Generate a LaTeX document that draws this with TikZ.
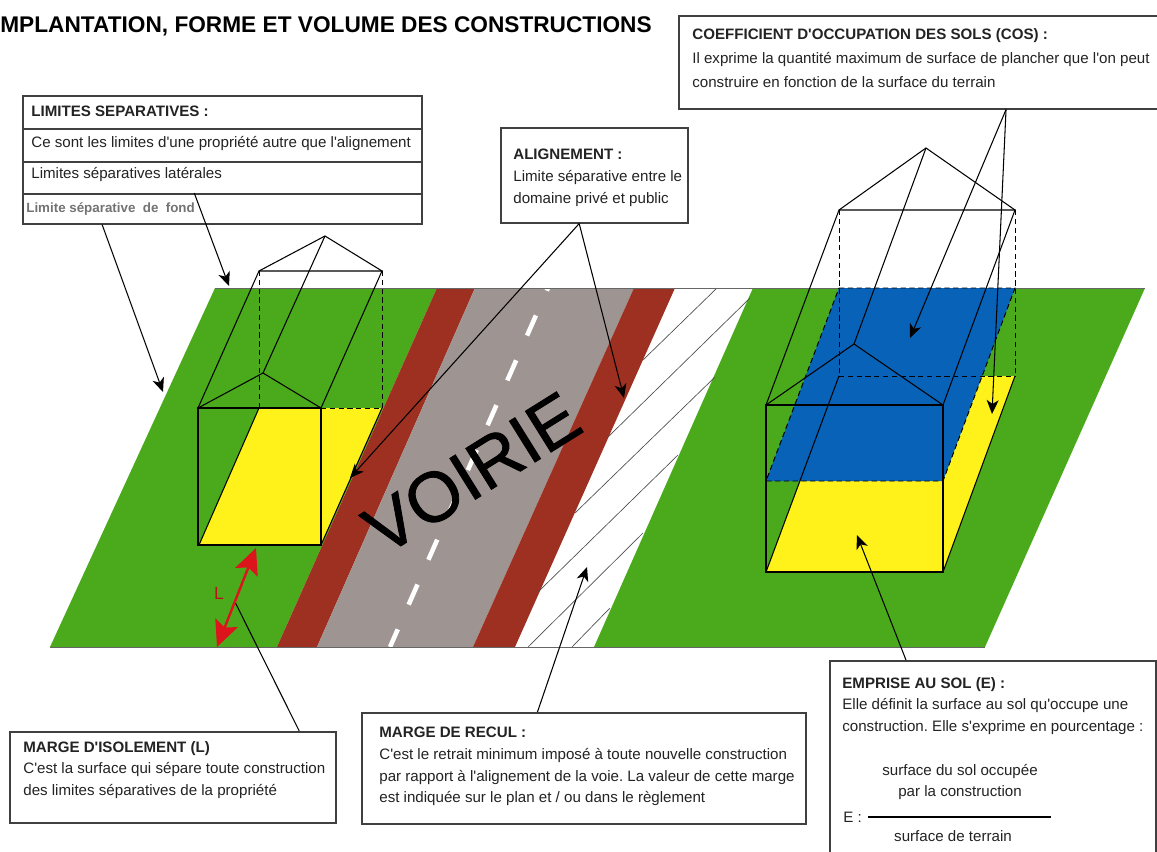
\documentclass[tikz,border=0pt]{standalone}
\usepackage{fontspec}
\setmainfont{Liberation Sans}[Ligatures=TeXOff]
\newfontfamily\grasfont[FakeBold=1.2]{Liberation Sans}
\usetikzlibrary{arrows.meta,calc}
\definecolor{gazon}{RGB}{75,170,28}
\definecolor{trottoir}{RGB}{158,48,33}
\definecolor{chaussee}{RGB}{158,148,146}
\definecolor{emprise}{RGB}{255,242,26}
\definecolor{cosbleu}{RGB}{8,98,184}
\definecolor{rouge}{RGB}{220,20,28}
\definecolor{encre}{RGB}{35,35,35}
\newcommand{\txt}{\fontsize{8.6}{12.3}\selectfont}
\newcommand{\txtcos}{\fontsize{8.6}{13.8}\selectfont}
\tikzset{
  boite/.style={draw=black!75,line width=.9pt,fill=white,inner sep=0pt,anchor=north west},
  texte/.style={anchor=north west,inner sep=0pt,align=left,text=encre,font=\txt},
  centre/.style={anchor=center,inner sep=0pt,align=center,text=encre,font=\txt},
  fleche/.style={draw=black,line width=.6pt,-{Stealth[length=.28cm,width=.24cm,inset=.08cm]}},
  trait/.style={draw=black,line width=.6pt},
  tirets/.style={draw=black,line width=.55pt,dash pattern=on 3pt off 2pt},
  hachure/.style={draw=black!70,line width=.38pt},
}
\begin{document}
\frenchspacing
\begin{tikzpicture}[x=0.02cm,y=-0.02cm]
\useasboundingbox (0,0) rectangle (1157,852);
\clip (0,0) rectangle (1157,852);
% terrain
\fill[gazon] (215,288) -- (437,288) -- (277,647) -- (50,647) -- cycle;
\fill[gazon] (753,288) -- (1145,288) -- (985,647) -- (594,647) -- cycle;
\fill[trottoir] (437,288) -- (475,288) -- (317,647) -- (277,647) -- cycle;
\fill[chaussee] (475,288) -- (634,288) -- (473,647) -- (317,647) -- cycle;
\fill[trottoir] (634,288) -- (675,288) -- (515,647) -- (473,647) -- cycle;
% hachures
\draw[hachure] (643,360) -- (717,288);
\draw[hachure] (608,437) -- (750,298);
\draw[hachure] (575,513) -- (715,377);
\draw[hachure] (538,592) -- (678,455);
\draw[hachure] (528,647) -- (643,533);
\draw[hachure] (572,647) -- (610,608);
% axe de la voie
\draw[white,line width=2.6pt,dash pattern=on .44cm off .54cm,dash phase=.38cm] (548,288) -- (390,647);
\draw[black!60,line width=.5pt] (215,288) -- (1145,288);
\draw[black!60,line width=.5pt] (50,647) -- (985,647);
\node[rotate=32,inner sep=0pt,font=\grasfont\fontsize{40}{40}\selectfont] (voirie) at (472,473) {VOIRIE};
% maison gauche
\fill[emprise] (259,408) -- (382,408) -- (321,545) -- (199,545) -- cycle;
\draw[trait] (259,408) -- (199,545);
\draw[trait] (382,408) -- (321,545);
\draw[trait] (198,408) rectangle (321,545);
\draw[tirets] (259,271) -- (259,408);
\draw[tirets] (382,271) -- (382,408);
\draw[tirets] (321,408) -- (382,408);
\draw[trait] (198,408) -- (259,271) -- (382,271) -- (321,408);
\draw[trait] (198,408) -- (263,373) -- (321,408);
\draw[trait] (259,271) -- (325,236) -- (382,271);
\draw[trait] (263,373) -- (325,236);
% maison droite
\fill[emprise] (839,376) -- (1015,376) -- (943,572) -- (766,572) -- cycle;
\fill[cosbleu] (839,288) -- (1015,288) -- (943,481) -- (766,481) -- cycle;
\draw[tirets] (839,288) -- (1015,288) -- (943,481) -- (766,481) -- cycle;
\draw[trait] (839,376) -- (766,572);
\draw[trait] (1015,376) -- (943,572);
\draw[trait] (766,405) rectangle (943,572);
\draw[tirets] (839,210) -- (839,376);
\draw[tirets] (1015,210) -- (1015,376);
\draw[tirets] (839,376) -- (1015,376);
\draw[trait] (766,405) -- (839,210) -- (1015,210) -- (943,405);
\draw[trait] (766,405) -- (854,344) -- (943,405);
\draw[trait] (839,210) -- (926,148) -- (1015,210);
\draw[trait] (854,344) -- (926,148);
% titre
\node[anchor=west,inner sep=0pt,font=\fontsize{12.9}{14}\selectfont\bfseries,text=black] (titre) at (0,26) {MPLANTATION, FORME ET VOLUME DES CONSTRUCTIONS};
% limites separatives
\node[boite,minimum width=399*0.02cm,minimum height=33*0.02cm] (lim1) at (22,95) {};
\node[boite,minimum width=399*0.02cm,minimum height=33*0.02cm] (lim2) at (22,128) {};
\node[boite,minimum width=399*0.02cm,minimum height=32*0.02cm] (lim3) at (22,161) {};
\node[boite,minimum width=399*0.02cm,minimum height=30*0.02cm] (lim4) at (22,193) {};
\node[texte,anchor=west,font=\txt\bfseries] (lim1t) at (31,111) {LIMITES SEPARATIVES :};
\node[texte,anchor=west] (lim2t) at (31,144) {Ce sont les limites d'une propriété autre que l'alignement};
\node[texte,anchor=west] (lim3t) at (31,175) {Limites séparatives latérales};
\node[texte,anchor=west,font=\fontsize{7.6}{9}\selectfont\bfseries,text=black!55] (lim4t) at (26,209) {Limite séparative\ \ de\ \ fond};
% alignement
\node[boite,minimum width=187*0.02cm,minimum height=95*0.02cm] (ali) at (500,127) {};
\node[texte] (alit) at (513,149) {\textbf{ALIGNEMENT :}\\Limite séparative entre le\\domaine privé et public};
% COS
\node[boite,minimum width=500*0.02cm,minimum height=93*0.02cm] (cos) at (678,15) {};
\node[texte,font=\txtcos] (cost) at (692,28) {\textbf{COEFFICIENT D'OCCUPATION DES SOLS (COS) :}\\Il exprime la quantité maximum de surface de plancher que l'on peut\\construire en fonction de la surface du terrain};
% marge d'isolement
\node[boite,minimum width=326*0.02cm,minimum height=91*0.02cm] (iso) at (9,731) {};
\node[texte] (isot) at (23,741) {\textbf{MARGE D'ISOLEMENT (L)}\\C'est la surface qui sépare toute construction\\des limites séparatives de la propriété};
% marge de recul
\node[boite,minimum width=444*0.02cm,minimum height=111*0.02cm] (rec) at (361,712) {};
\node[texte] (rect) at (379,727) {\textbf{MARGE DE RECUL :}\\C'est le retrait minimum imposé à toute nouvelle construction\\par rapport à l'alignement de la voie. La valeur de cette marge\\est indiquée sur le plan et / ou dans le règlement};
% emprise
\node[boite,minimum width=326*0.02cm,minimum height=220*0.02cm] (emp) at (829,660) {};
\node[texte] (empt) at (842,677) {\textbf{EMPRISE AU SOL (E) :}\\Elle définit la surface au sol qu'occupe une\\construction. Elle s'exprime en pourcentage :};
\node[centre] (empn) at (960,782) {surface du sol occupée\\par la construction};
\node[texte,anchor=west] (empe) at (843,817) {E :};
\node[centre] (empd) at (953,836) {surface de terrain};
\draw[black,line width=.8pt] (868,817) -- (1051,817);
% connecteurs
\coordinate (c1) at (229,286);
\coordinate (c2) at (163,392);
\coordinate (c3) at (350,478);
\coordinate (c4) at (624,398);
\coordinate (c5) at (910,338);
\coordinate (c6) at (992,414);
\coordinate (c7) at (857,535);
\coordinate (c8) at (587,567);
\coordinate (c9) at (235,602);
\coordinate (r1) at (256,548);
\coordinate (r2) at (217,647);
\draw[fleche] ($(lim4.north west)!.43!(lim4.north east)$) -- (c1);
\draw[fleche] ($(lim4.south west)!.2!(lim4.south east)$) -- (c2);
\draw[fleche] ($(ali.south west)!.42!(ali.south east)$) -- (c3);
\draw[fleche] ($(ali.south west)!.42!(ali.south east)$) -- (c4);
\draw[fleche] ($(cos.south west)!.654!(cos.south east)$) -- (c5);
\draw[fleche] ($(cos.south west)!.654!(cos.south east)$) -- (c6);
\draw[fleche] ($(emp.north west)!.235!(emp.north east)$) -- (c7);
\draw[fleche] ($(rec.north west)!.396!(rec.north east)$) -- (c8);
\draw[trait] ($(iso.north west)!.886!(iso.north east)$) -- (c9);
\draw[rouge,line width=1.4pt,{Stealth[length=.52cm,width=.48cm,inset=.1cm]}-{Stealth[length=.52cm,width=.48cm,inset=.1cm]}] (r1) -- (r2);
\node[inner sep=0pt,text=rouge!85!black,font=\fontsize{10}{10}\selectfont] (lbl) at (219,593) {L};
\end{tikzpicture}
\end{document}
